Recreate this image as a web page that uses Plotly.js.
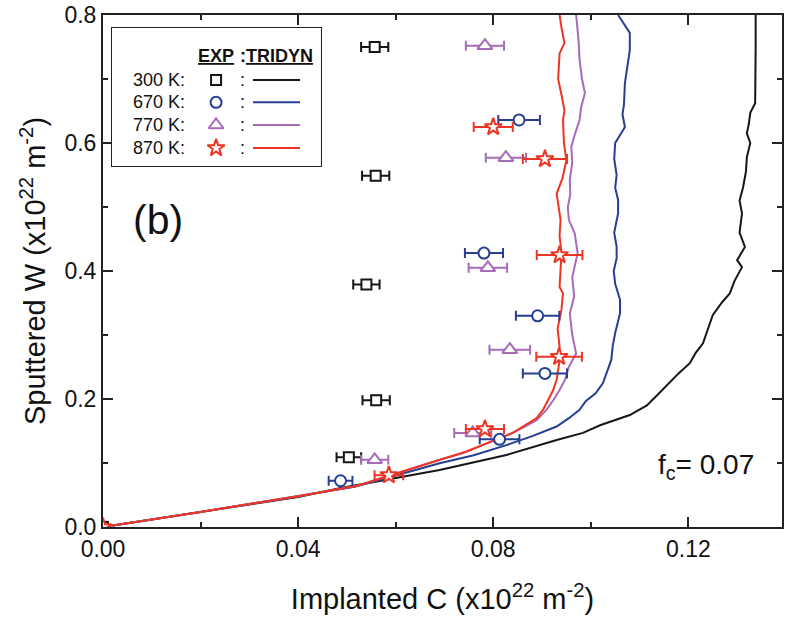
<!DOCTYPE html>
<html>
<head>
<meta charset="utf-8">
<script src="https://cdn.plot.ly/plotly-3.0.1.min.js"></script>
<style>
  html, body { margin: 0; padding: 0; background: #fff; }
  #chart { width: 785px; height: 626px; }
</style>
</head>
<body>
<div id="chart"></div>
<script>
// ---- measured sputtering data (x: implanted C, y: sputtered W, units 1e22 m^-2) ----
const exp300X = [0, 0.0557, 0.0559, 0.0540, 0.0560, 0.0504];
const exp300Y = [0, 0.750, 0.549, 0.379, 0.198, 0.109];
const exp670X = [0.0853, 0.0781, 0.0891, 0.0906, 0.0813, 0.0487];
const exp670Y = [0.636, 0.428, 0.330, 0.240, 0.137, 0.0723];
const exp770X = [0.0783, 0.0826, 0.0789, 0.0834, 0.0758, 0.0557];
const exp770Y = [0.752, 0.577, 0.405, 0.277, 0.147, 0.105];
const exp870X = [0, 0.0800, 0.0906, 0.0936, 0.0935, 0.0783, 0.0586];
const exp870Y = [0, 0.625, 0.575, 0.425, 0.266, 0.153, 0.081];
const expErrPercent = 5;

// ---- TRIDYN simulations ----
const tri300X = [0, 0.01, 0.02, 0.03, 0.04, 0.0485, 0.06, 0.069, 0.0827, 0.093, 0.0984, 0.1019, 0.108, 0.1115, 0.1135, 0.1156, 0.118, 0.1203, 0.1215, 0.123, 0.124, 0.125, 0.127, 0.1285, 0.1295, 0.131, 0.130, 0.1316, 0.1305, 0.131, 0.1305, 0.1312, 0.1318, 0.132, 0.1327, 0.132, 0.1324, 0.1327, 0.1337, 0.1338, 0.1338, 0.1338];
const tri300Y = [0, 0.0115, 0.023, 0.035, 0.047, 0.0605, 0.0765, 0.089, 0.1125, 0.136, 0.147, 0.159, 0.175, 0.19, 0.205, 0.222, 0.24, 0.256, 0.272, 0.287, 0.31, 0.331, 0.352, 0.365, 0.385, 0.406, 0.417, 0.4375, 0.46, 0.49, 0.51, 0.53, 0.555, 0.578, 0.6, 0.615, 0.63, 0.647, 0.662, 0.7, 0.75, 0.8];
const tri670X = [0, 0.01, 0.02, 0.03, 0.04, 0.0516, 0.06, 0.069, 0.076, 0.0827, 0.088, 0.093, 0.0955, 0.0977, 0.099, 0.101, 0.1025, 0.1035, 0.1042, 0.1045, 0.105, 0.106, 0.106, 0.105, 0.1047, 0.1053, 0.1053, 0.1048, 0.1056, 0.1056, 0.105, 0.1053, 0.1048, 0.105, 0.107, 0.1065, 0.1068, 0.107, 0.1075, 0.108, 0.108, 0.1065, 0.1056];
const tri670Y = [0, 0.0115, 0.0235, 0.036, 0.048, 0.063, 0.0806, 0.0995, 0.112, 0.128, 0.142, 0.157, 0.17, 0.183, 0.197, 0.209, 0.225, 0.245, 0.261, 0.283, 0.303, 0.334, 0.355, 0.38, 0.40, 0.42, 0.438, 0.46, 0.49, 0.511, 0.53, 0.55, 0.575, 0.6, 0.625, 0.645, 0.66, 0.694, 0.72, 0.745, 0.772, 0.79, 0.8];
const tri770X = [0, 0.01, 0.02, 0.03, 0.04, 0.052, 0.0622, 0.069, 0.0737, 0.0768, 0.0805, 0.084, 0.0865, 0.0889, 0.0909, 0.0923, 0.0936, 0.0947, 0.0955, 0.097, 0.0962, 0.0957, 0.0966, 0.0962, 0.0973, 0.0967, 0.0955, 0.0953, 0.0958, 0.0957, 0.0962, 0.096, 0.0968, 0.0977, 0.098, 0.0988, 0.0982, 0.0977, 0.0975, 0.097];
const tri770Y = [0, 0.0115, 0.0235, 0.036, 0.048, 0.064, 0.089, 0.105, 0.115, 0.125, 0.136, 0.147, 0.157, 0.167, 0.183, 0.198, 0.214, 0.23, 0.25, 0.271, 0.30, 0.334, 0.36, 0.39, 0.428, 0.459, 0.48, 0.5, 0.52, 0.542, 0.57, 0.594, 0.615, 0.636, 0.655, 0.678, 0.70, 0.73, 0.76, 0.8];
const tri870X = [0, 0.01, 0.02, 0.03, 0.04, 0.052, 0.0601, 0.067, 0.0745, 0.0795, 0.084, 0.0865, 0.0889, 0.0902, 0.0912, 0.0923, 0.093, 0.0935, 0.0936, 0.0932, 0.094, 0.0943, 0.0936, 0.0938, 0.094, 0.0936, 0.0938, 0.093, 0.0942, 0.095, 0.0945, 0.0943, 0.0946, 0.094, 0.0933, 0.0936, 0.0946, 0.094, 0.0936];
const tri870Y = [0, 0.0115, 0.0235, 0.036, 0.048, 0.064, 0.084, 0.1, 0.118, 0.133, 0.147, 0.159, 0.170, 0.183, 0.198, 0.214, 0.23, 0.255, 0.282, 0.31, 0.34, 0.365, 0.375, 0.40, 0.428, 0.455, 0.48, 0.521, 0.545, 0.573, 0.6, 0.636, 0.651, 0.675, 0.70, 0.74, 0.756, 0.78, 0.8];

// ---- legend content ----
const tempLabels = ['300 K:', '670 K:', '770 K:', '870 K:'];
const seriesColors = ['#161616', '#263f93', '#a66cb8', '#ee3524'];
const seriesSymbols = ['square', 'circle', 'triangle-up', 'star'];
const symbolSizes = [10, 11, 13, 13];

const expX = [exp300X, exp670X, exp770X, exp870X];
const expY = [exp300Y, exp670Y, exp770Y, exp870Y];
const triX = [tri300X, tri670X, tri770X, tri870X];
const triY = [tri300Y, tri670Y, tri770Y, tri870Y];

const FONT = 'Liberation Sans, Arial, Helvetica, sans-serif';
const traces = [];

// simulation curves
for (let i = 0; i < 4; i++) {
  traces.push({
    type: 'scatter', mode: 'lines', x: triX[i], y: triY[i],
    line: { color: seriesColors[i], width: 2 }, hoverinfo: 'skip'
  });
}
// experimental points with horizontal error bars
for (let i = 0; i < 4; i++) {
  traces.push({
    type: 'scatter', mode: 'markers', x: expX[i], y: expY[i],
    marker: { symbol: seriesSymbols[i], size: symbolSizes[i], color: '#ffffff',
              line: { color: seriesColors[i], width: 2 } },
    error_x: { type: 'percent', value: expErrPercent, color: seriesColors[i],
               thickness: 2, width: 5 }
  });
}

// legend rows on a small hidden subplot (unit coordinates inside the box)
const rowY = [0.621, 0.462, 0.300, 0.136];
const markerCol = 0.498, colonCol = 0.621, lineStart = 0.673, lineEnd = 0.896, labelCol = 0.36;
const annotations = [];
for (let i = 0; i < 4; i++) {
  traces.push({
    type: 'scatter', mode: 'markers', xaxis: 'x2', yaxis: 'y2',
    x: [markerCol], y: [rowY[i]], cliponaxis: false,
    marker: { symbol: seriesSymbols[i], size: symbolSizes[i], color: '#ffffff',
              line: { color: seriesColors[i], width: 2 } }
  });
  traces.push({
    type: 'scatter', mode: 'lines', xaxis: 'x2', yaxis: 'y2',
    x: [lineStart, lineEnd], y: [rowY[i], rowY[i]], cliponaxis: false,
    line: { color: seriesColors[i], width: 2 }
  });
  annotations.push({ xref: 'x2', yref: 'y2', x: labelCol, y: rowY[i], text: tempLabels[i],
    xanchor: 'right', yanchor: 'middle', showarrow: false, font: { family: FONT, size: 18, color: '#111' } });
  annotations.push({ xref: 'x2', yref: 'y2', x: colonCol, y: rowY[i], text: ':',
    xanchor: 'center', yanchor: 'middle', showarrow: false, font: { family: FONT, size: 18, color: '#111' } });
}
annotations.push({ xref: 'x2', yref: 'y2', x: markerCol, y: 0.79, text: '<b><u>EXP</u></b>',
  xanchor: 'center', yanchor: 'middle', showarrow: false, font: { family: FONT, size: 18, color: '#111' } });
annotations.push({ xref: 'x2', yref: 'y2', x: 0.602, y: 0.79, text: '<b>:<u>TRIDYN</u></b>',
  xanchor: 'left', yanchor: 'middle', showarrow: false, font: { family: FONT, size: 18, color: '#111' } });

// panel label and composition note
annotations.push({ xref: 'paper', yref: 'paper', x: 0.081, y: 0.60, text: '(b)',
  xanchor: 'center', yanchor: 'middle', showarrow: false, font: { family: FONT, size: 41, color: '#111' } });
annotations.push({ xref: 'paper', yref: 'paper', x: 0.814, y: 0.118, text: 'f<sub>c</sub>= 0.07',
  xanchor: 'left', yanchor: 'middle', showarrow: false, font: { family: FONT, size: 28, color: '#111' } });

const axisCommon = {
  showline: true, linecolor: '#222', linewidth: 2, mirror: 'ticks',
  ticks: 'inside', ticklen: 10, tickwidth: 2, tickcolor: '#222',
  showgrid: false, zeroline: false,
  tickfont: { family: FONT, size: 23, color: '#111' }
};

const layout = {
  width: 785, height: 626,
  margin: { l: 103, r: 3, t: 15, b: 99 },
  paper_bgcolor: '#fff', plot_bgcolor: '#fff',
  showlegend: false,
  xaxis: Object.assign({}, axisCommon, {
    range: [0, 0.1392], tick0: 0, dtick: 0.04, tickformat: '.2f',
    minor: { dtick: 0.02, ticks: 'inside', ticklen: 5, tickwidth: 2, tickcolor: '#222' },
    title: { text: 'Implanted C (x10<sup>22</sup> m<sup>-2</sup>)', standoff: 28,
             font: { family: FONT, size: 29, color: '#111' } }
  }),
  yaxis: Object.assign({}, axisCommon, {
    range: [0, 0.8], tick0: 0, dtick: 0.2, tickformat: '.1f',
    minor: { dtick: 0.1, ticks: 'inside', ticklen: 5, tickwidth: 2, tickcolor: '#222' },
    title: { text: 'Sputtered W (x10<sup>22</sup> m<sup>-2</sup>)', standoff: 10,
             font: { family: FONT, size: 29, color: '#111' } }
  }),
  xaxis2: { domain: [0.0118, 0.3225], range: [0, 1], anchor: 'y2', visible: false, fixedrange: true },
  yaxis2: { domain: [0.7031, 0.9766], range: [0, 1], anchor: 'x2', visible: false, fixedrange: true },
  shapes: [{
    type: 'rect', xref: 'x2', yref: 'y2', x0: 0, x1: 1, y0: 0, y1: 1,
    line: { color: '#222', width: 2 }
  }],
  annotations: annotations
};

Plotly.newPlot('chart', traces, layout, { staticPlot: true, displayModeBar: false });
</script>
</body>
</html>
